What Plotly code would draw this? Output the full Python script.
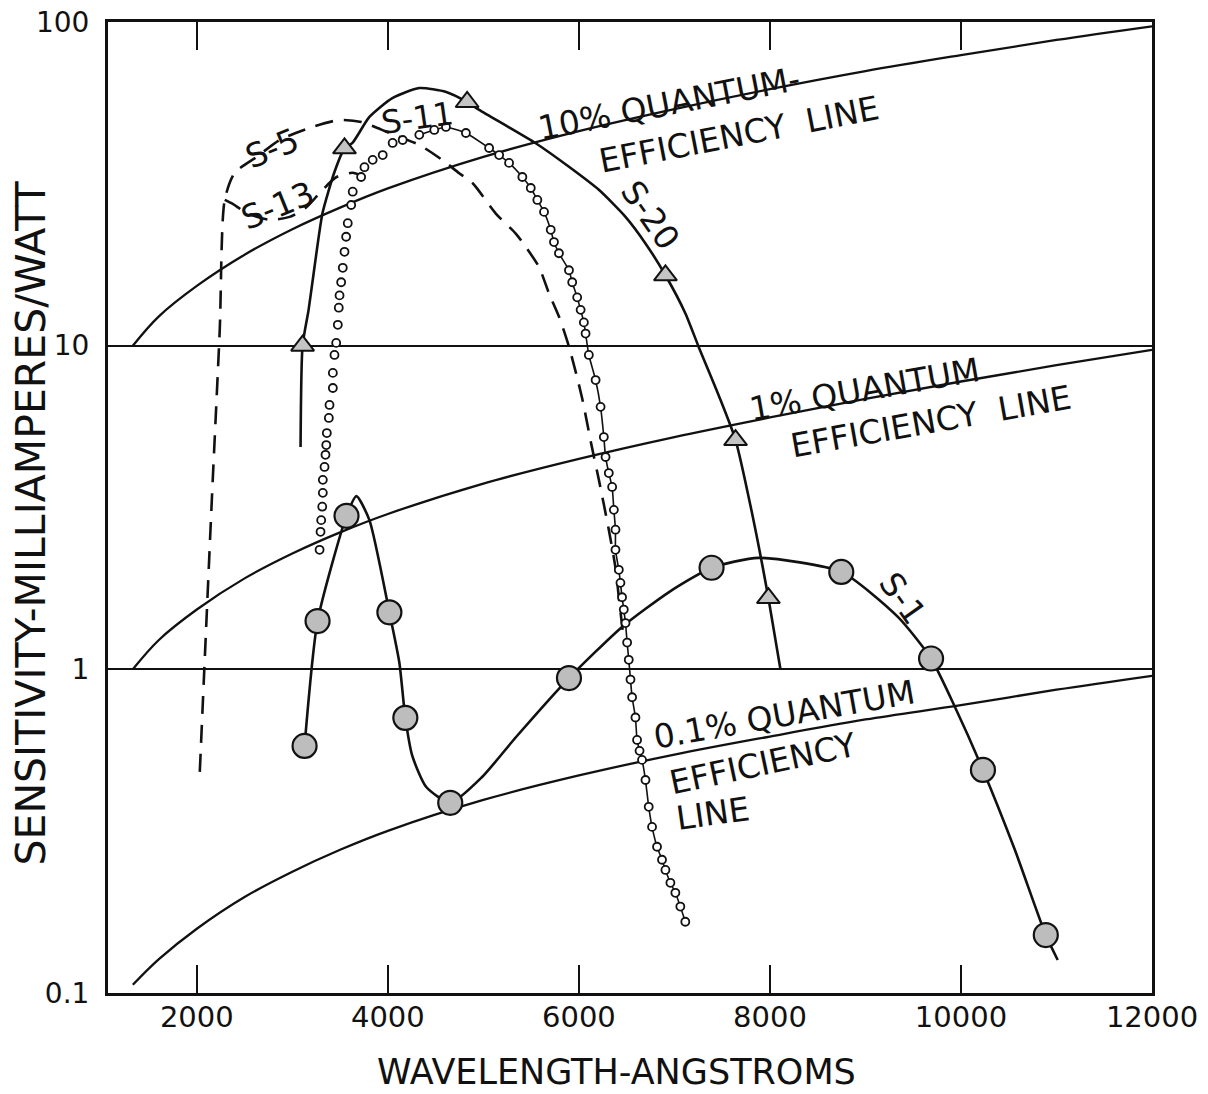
import numpy as np
import plotly.graph_objects as go

# ---------------- data ----------------
# quantum-efficiency reference lines
qe_wl = [1330, 1600, 2000, 2500, 3000, 3500, 4000, 5000, 6000, 7000, 8000, 9000, 10000, 11000, 12000]
qe_10 = [10.0, 12.3, 15.3, 19.1, 22.9, 26.7, 30.6, 38.3, 46.0, 53.8, 62.0, 70.5, 79.0, 88.0, 97.0]
qe_1 = [1.00, 1.23, 1.53, 1.91, 2.28, 2.65, 3.02, 3.75, 4.47, 5.22, 6.00, 6.85, 7.75, 8.70, 9.70]
qe_01 = [0.106, 0.127, 0.158, 0.198, 0.237, 0.277, 0.317, 0.395, 0.470, 0.545, 0.620, 0.700, 0.775, 0.865, 0.955]

# S-1 response (curve and plotted points)
s1_wl = [3128, 3264, 3567, 3671, 3807, 4016, 4120, 4183, 4256, 4402, 4653, 4987, 5342, 5896, 6449, 6940, 7389, 7880, 8747, 9342, 9687, 9937, 10230, 10564, 10888, 11013]
s1_val = [0.580, 1.41, 2.98, 3.43, 2.89, 1.50, 1.05, 0.708, 0.540, 0.433, 0.387, 0.465, 0.618, 0.94, 1.35, 1.73, 2.06, 2.21, 2.0, 1.45, 1.08, 0.765, 0.489, 0.277, 0.151, 0.1265]
s1_pt_wl = [3128, 3264, 3567, 4016, 4183, 4653, 5896, 7389, 8747, 9687, 10230, 10888]
s1_pt_val = [0.580, 1.41, 2.98, 1.50, 0.708, 0.387, 0.94, 2.06, 2.0, 1.08, 0.489, 0.151]

# S-20 response (curve and plotted points)
s20_wl = [3086, 3107, 3170, 3232, 3316, 3441, 3546, 3629, 3807, 4047, 4329, 4611, 4830, 4956, 5548, 5896, 6209, 6488, 6697, 6906, 7114, 7253, 7462, 7640, 7828, 7984, 8110]
s20_val = [4.86, 10.0, 12.9, 17.5, 25.7, 34.4, 40.7, 42.3, 50.9, 58.2, 62.5, 60.8, 56.6, 53.5, 42.2, 35.7, 30.3, 25.0, 20.7, 16.5, 12.6, 9.93, 7.04, 5.11, 2.89, 1.66, 1.0]
s20_pt_wl = [3107, 3546, 4830, 6906, 7640, 7984]
s20_pt_val = [10.0, 40.7, 56.6, 16.5, 5.11, 1.66]

# S-11 response (small open circles)
s11_wl = [3285, 3295, 3302, 3313, 3319, 3319, 3337, 3347, 3355, 3361, 3382, 3389, 3424, 3424, 3441, 3459, 3476, 3486, 3494, 3511,
          3528, 3546, 3563, 3580, 3616, 3632, 3720, 3755, 3841, 3946, 4050, 4155, 4329, 4486, 4608, 4817, 5060, 5165, 5269, 5408,
          5496, 5565, 5635, 5705, 5739, 5791, 5896, 5930, 5982, 6018, 6052, 6070, 6104, 6175, 6227, 6261, 6279, 6313, 6348, 6366,
          6383, 6383, 6418, 6435, 6452, 6470, 6488, 6505, 6522, 6540, 6557, 6592, 6609, 6635, 6661, 6697, 6731, 6766, 6818, 6870,
          6906, 6958, 7010, 7062, 7114]
s11_val = [2.34, 2.66, 2.89, 3.18, 3.51, 3.85, 4.22, 4.60, 4.93, 5.37, 5.98, 6.56, 7.40, 8.24, 9.36, 10.2, 11.6, 13.1, 14.3, 15.7,
           17.4, 19.5, 21.7, 23.9, 27.2, 29.9, 33.2, 35.6, 37.5, 38.8, 42.3, 43.2, 44.8, 46.4, 47.4, 45.4, 40.8, 38.8, 36.7, 33.2,
           30.7, 28.2, 25.9, 22.8, 20.9, 19.3, 17.1, 15.7, 14.1, 12.9, 11.8, 10.9, 9.36, 7.83, 6.47, 5.22, 4.53, 4.04, 3.66, 3.11,
           2.70, 2.34, 2.03, 1.85, 1.67, 1.53, 1.39, 1.21, 1.07, 0.93, 0.82, 0.71, 0.605, 0.56, 0.525, 0.455, 0.376, 0.326, 0.283, 0.258,
           0.240, 0.219, 0.204, 0.185, 0.166]
s11_line_from = 4329  # the thin line through the circles starts near the peak

# S-5 (dashed) and S-13 (dashed branch joining S-11)
s5_wl = [2031, 2157, 2240, 2292, 2397, 2627, 2867, 3211, 3494, 3723, 4016, 4329, 4569, 4747, 4886, 5130, 5339, 5443, 5582, 5687, 5791, 5896, 6031, 6136, 6209, 6313, 6386, 6418, 6470]
s5_val = [0.482, 3.34, 11.2, 28.2, 34.2, 38.3, 43.2, 47.4, 49.8, 49.1, 45.4, 41.7, 37.5, 34.1, 31.8, 25.6, 22.2, 20.2, 17.5, 14.5, 12.3, 9.93, 6.94, 4.86, 3.85, 2.70, 2.03, 1.67, 1.23]
s13_wl = [2292, 2376, 2522, 2762, 2971, 3149, 3285, 3462, 3629, 3723]
s13_val = [28.2, 27.4, 25.7, 24.5, 25.0, 26.8, 29.6, 33.2, 34.2, 33.5]

x_ticks = [2000, 4000, 6000, 8000, 10000, 12000]
y_ticks = [0.1, 1, 10, 100]
y_ticktext = ["0.1", "1", "10", "100"]
x_title = "WAVELENGTH-ANGSTROMS"
y_title = "SENSITIVITY-MILLIAMPERES/WATT"

# text labels: (text, wavelength, value, angle, size)
labels = [
    ("S-5", 2783, 40.8, -22, 33),
    ("S-13", 2846, 27.2, -22, 33),
    ("S-11", 4308, 50.5, -8, 32),
    ("10% QUANTUM-", 6940, 56.2, -11, 33),
    ("EFFICIENCY  LINE", 7671, 44.8, -11, 33),
    ("S-20", 6752, 25.3, 55, 33),
    ("1% QUANTUM", 8987, 7.30, -10, 33),
    ("EFFICIENCY  LINE", 9687, 5.81, -10, 33),
    ("S-1", 9394, 1.66, 55, 33),
    ("0.1% QUANTUM", 8152, 0.723, -10, 33),
    ("EFFICIENCY", 7932, 0.512, -12, 33),
    ("LINE", 7400, 0.358, -8, 33),
]

FONT = "DejaVu Sans"
INK = "#111111"

fig = go.Figure()

def curve(x, y, width=2.5, dash=None, smoothing=0.6):
    ln = dict(color=INK, width=width, shape="spline", smoothing=smoothing)
    if dash:
        ln["dash"] = dash
    fig.add_trace(go.Scatter(x=x, y=y, mode="lines", line=ln, hoverinfo="skip", showlegend=False))

# quantum efficiency lines
for vals in (qe_10, qe_1, qe_01):
    curve(qe_wl, vals, width=2.3, smoothing=1.0)

# S-5 and S-13 dashed
curve(s5_wl, s5_val, width=2.6, dash="18px,11px", smoothing=0.7)
curve(s13_wl, s13_val, width=2.6, dash="18px,11px", smoothing=0.7)

# S-11 thin line through the right part
s11_line_x = [w for w in s11_wl if w >= s11_line_from]
s11_line_y = [v for w, v in zip(s11_wl, s11_val) if w >= s11_line_from]
curve(s11_line_x, s11_line_y, width=1.6, smoothing=0.5)

# S-20 and S-1 curves
curve(s20_wl, s20_val, width=2.6, smoothing=0.6)
curve(s1_wl, s1_val, width=2.6, smoothing=0.6)

# markers
fig.add_trace(go.Scatter(x=s11_wl, y=s11_val, mode="markers",
                         marker=dict(symbol="circle", size=8, color="white", line=dict(color=INK, width=1.8)),
                         hoverinfo="skip", showlegend=False))
fig.add_trace(go.Scatter(x=s20_pt_wl, y=s20_pt_val, mode="markers",
                         marker=dict(symbol="triangle-up", size=20, color="#c4c4c4", line=dict(color=INK, width=2)),
                         hoverinfo="skip", showlegend=False))
fig.add_trace(go.Scatter(x=s1_pt_wl, y=s1_pt_val, mode="markers",
                         marker=dict(symbol="circle", size=24, color="#bdbdbd", line=dict(color=INK, width=2.2)),
                         hoverinfo="skip", showlegend=False))

for text, wl, val, ang, size in labels:
    fig.add_annotation(x=wl, y=np.log10(val), xref="x", yref="y", text=text, showarrow=False,
                       textangle=ang, font=dict(family=FONT, size=size, color=INK))

# axis titles placed as in the reference (slightly off-centre)
fig.add_annotation(x=-0.0738, y=0.4845, xref="paper", yref="paper", text=y_title, showarrow=False,
                   textangle=-90, xanchor="center", yanchor="middle",
                   font=dict(family=FONT, size=41, color=INK))
fig.add_annotation(x=0.4875, y=-0.0815, xref="paper", yref="paper", text=x_title, showarrow=False,
                   xanchor="center", yanchor="middle",
                   font=dict(family=FONT, size=35, color=INK))

fig.update_layout(
    width=1208, height=1094,
    margin=dict(l=108, r=56, t=22, b=101, autoexpand=False),
    paper_bgcolor="white", plot_bgcolor="white",
    font=dict(family=FONT, color=INK),
    xaxis=dict(
        range=[1070, 12000], tickvals=x_ticks, ticktext=[str(t) for t in x_ticks],
        ticks="inside", ticklen=28, tickwidth=2, tickcolor=INK,
        showline=True, linewidth=2.5, linecolor=INK, mirror="ticks",
        showgrid=False, zeroline=False, ticklabeloverflow="allow",
        tickfont=dict(family=FONT, size=29, color=INK), ticklabelstandoff=-4,
        automargin=False,
    ),
    yaxis=dict(
        type="log", range=[-1, 2], tickvals=y_ticks, ticktext=y_ticktext,
        ticks="", showline=True, linewidth=3, linecolor=INK, mirror=True,
        showgrid=True, gridcolor=INK, gridwidth=2, zeroline=False, ticklabeloverflow="allow",
        tickfont=dict(family=FONT, size=28, color=INK), ticklabelstandoff=10,
        automargin=False,
    ),
)

# remove the browser's default 8 px page margin so the figure fills the window exactly
page_fix = ("document.body.style.margin='0';document.body.style.overflow='hidden';"
            "document.documentElement.style.overflow='hidden';")
fig.write_html("out.html", post_script=page_fix, config={"displayModeBar": False})
